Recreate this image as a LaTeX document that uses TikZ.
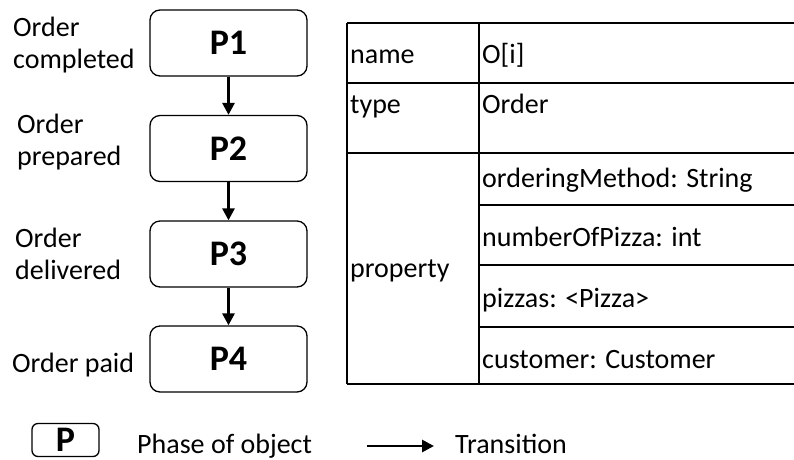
\documentclass[tikz,border=0pt]{standalone}
\usepackage{fontspec}
\setmainfont{Carlito}
\usetikzlibrary{arrows.meta}
\begin{document}
\begin{tikzpicture}[x=1pt,y=-1pt,
  phase/.style={draw, line width=1.3pt, rounded corners=10pt, minimum width=157pt, minimum height=66pt, inner sep=0pt, font=\fontsize{36}{40}\selectfont\bfseries},
  lbl/.style={anchor=base west, inner sep=0pt, font=\fontsize{28}{32}\selectfont},
  trans/.style={line width=2.8pt, -{Triangle[length=12pt,width=12pt]}},
  tline/.style={line width=1.3pt}]
\useasboundingbox (0,0) rectangle (794,459);

% phases
\node[phase] (p1) at (228.5,43) {P1};
\node[phase] (p2) at (228.5,148.5) {P2};
\node[phase] (p3) at (228.5,254) {P3};
\node[phase] (p4) at (228.5,359) {P4};
\draw[trans] (p1) -- (p2);
\draw[trans] (p2) -- (p3);
\draw[trans] (p3) -- (p4);

% phase labels
\node[lbl] (l1a) at (13,36) {Order};
\node[lbl] (l1b) at (13,68) {completed};
\node[lbl] (l2a) at (17,133) {Order};
\node[lbl] (l2b) at (17,165) {prepared};
\node[lbl] (l3a) at (15,247) {Order};
\node[lbl] (l3b) at (15,279) {delivered};
\node[lbl] (l4) at (12,372) {Order paid};

% table
\draw[tline] (347,23) -- (347,384);
\draw[tline] (479,23) -- (479,384);
\draw[tline] (347,23) -- (794,23);
\draw[tline] (347,83) -- (794,83);
\draw[tline] (347,153) -- (794,153);
\draw[tline] (479,205) -- (794,205);
\draw[tline] (479,265) -- (794,265);
\draw[tline] (479,327) -- (794,327);
\draw[tline] (347,384) -- (794,384);

\node[lbl] (tn) at (350,63) {name};
\node[lbl] (tnv) at (482,63) {O[i]};
\node[lbl] (tt) at (350,113) {type};
\node[lbl] (ttv) at (482,113) {Order};
\node[lbl] (tp) at (350,277) {property};
\node[lbl] (tp1) at (482,187) {orderingMethod: String};
\node[lbl] (tp2) at (482,246) {numberOfPizza: int};
\node[lbl] (tp3) at (482,307) {pizzas: <Pizza>};
\node[lbl] (tp4) at (482,368) {customer: Customer};

% legend
\node[phase, minimum width=67pt, minimum height=33pt, rounded corners=6pt] (lp) at (65.5,440) {P};
\node[lbl] (lpt) at (137,453) {Phase of object};
\coordinate (ta) at (367,446);
\coordinate (tb) at (434,446);
\draw[trans] (ta) -- (tb);
\node[lbl] (ltt) at (455,453) {Transition};
\end{tikzpicture}
\end{document}
